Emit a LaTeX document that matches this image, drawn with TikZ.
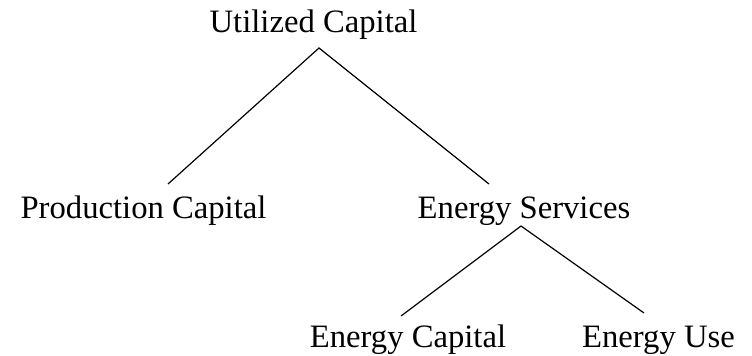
\documentclass[tikz,border=0pt]{standalone}
\usepackage{fontspec}
\setmainfont{Liberation Serif}
\begin{document}
\begin{tikzpicture}[x=0.75pt,y=-0.75pt,
  lbl/.style={anchor=base,inner sep=0pt,font=\fontsize{24.5}{29}\selectfont},
  edge/.style={line width=0.9pt,black}]
\useasboundingbox (0,0) rectangle (752,356);
\node[lbl] (u) at (313.5,33) {Utilized Capital};
\node[lbl] (p) at (143.5,218) {Production Capital};
\node[lbl] (s) at (524,218) {Energy Services};
\node[lbl] (c) at (408,347) {Energy Capital};
\node[lbl] (e) at (658.5,347) {Energy Use};
\draw[edge] ([shift={(24.5,-34)}]p.base) -- ([shift={(5.5,15)}]u.base) -- ([shift={(-35,-34)}]s.base);
\draw[edge] ([shift={(-7,-31)}]c.base) -- ([shift={(-3,8)}]s.base) -- ([shift={(-14.5,-34)}]e.base);
\end{tikzpicture}
\end{document}
